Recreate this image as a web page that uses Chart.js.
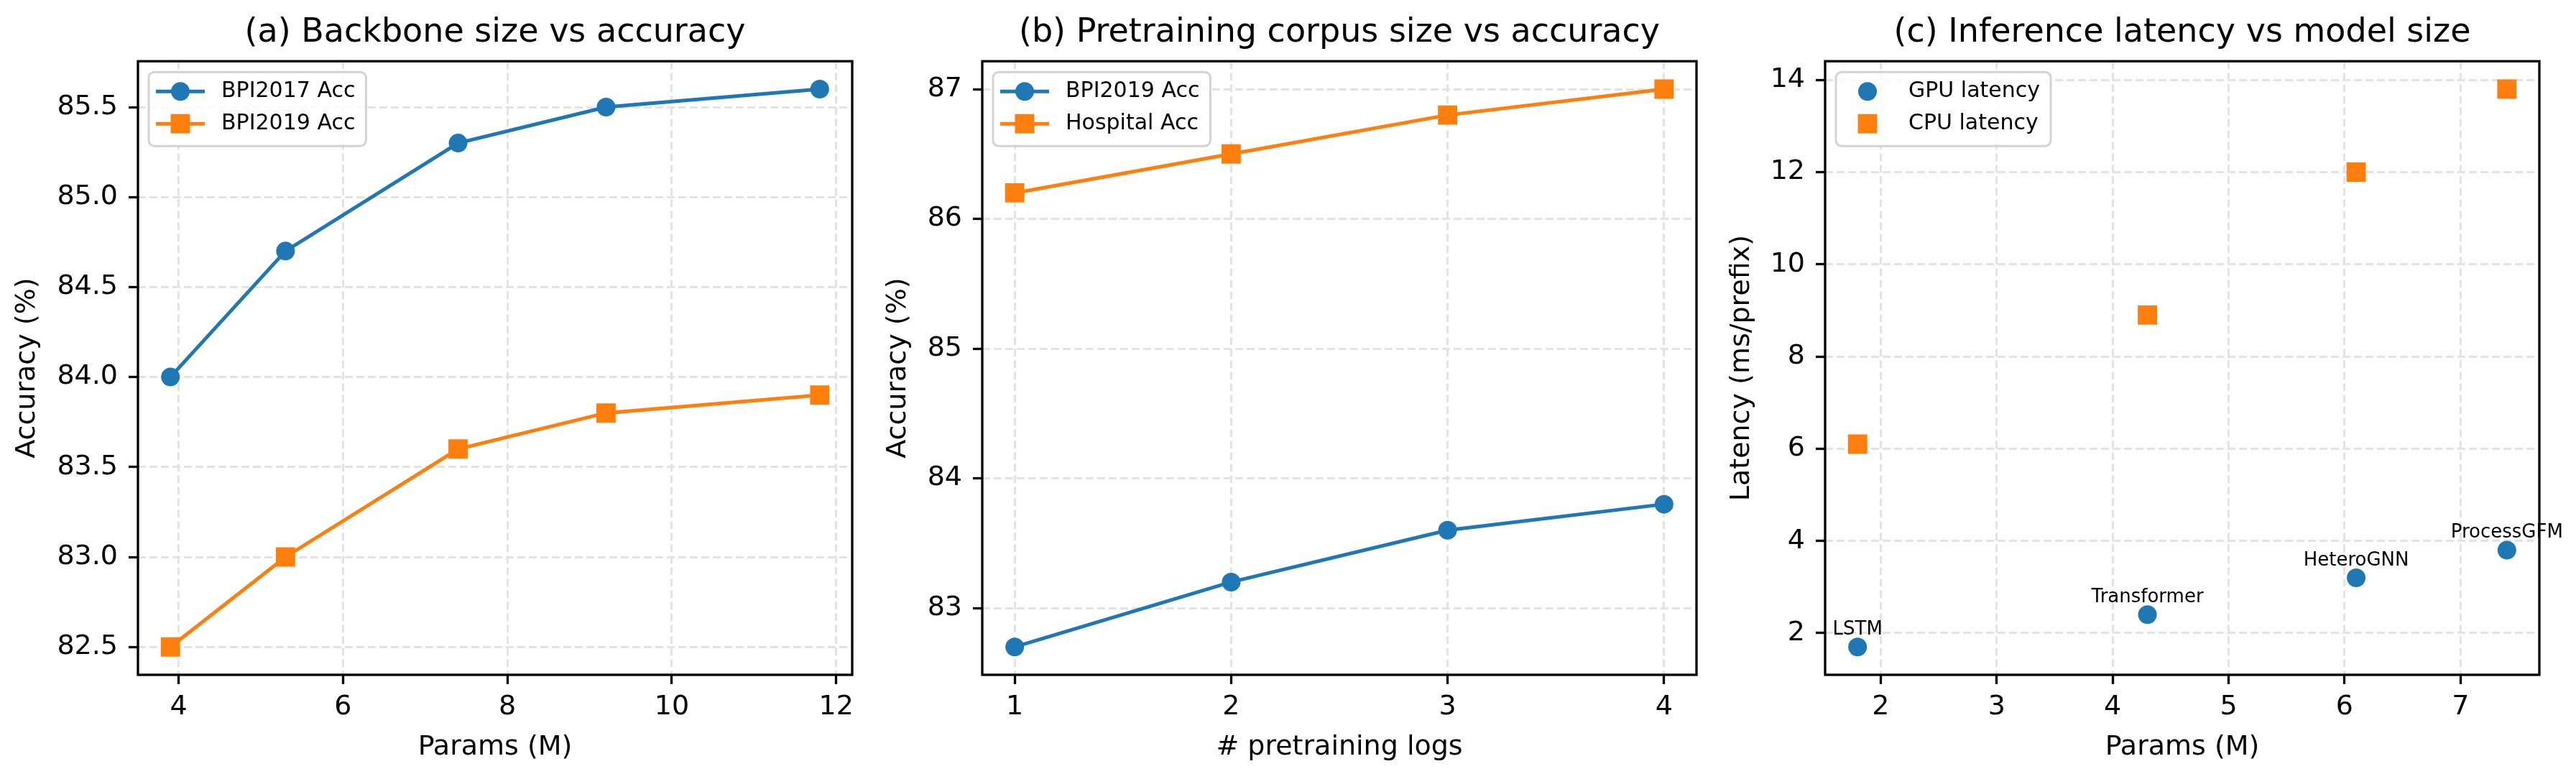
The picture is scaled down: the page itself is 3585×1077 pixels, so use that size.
<!DOCTYPE html>
<html>
<head>
<meta charset="utf-8">
<title>Backbone size, pretraining corpus and latency</title>
<script src="https://cdn.jsdelivr.net/npm/chart.js@4.4.1/dist/chart.umd.min.js"></script>
<style>
  html, body { margin: 0; padding: 0; background: #fff; }
  #wrap { position: relative; width: 3585px; height: 1077px; overflow: hidden; background: #fff; }
  #wrap canvas { position: absolute; top: 0; }
</style>
</head>
<body>
<div id="wrap">
  <canvas id="chartA" width="1260" height="1077" style="left:0px;width:1260px;height:1077px"></canvas>
  <canvas id="chartB" width="1265" height="1077" style="left:1175px;width:1265px;height:1077px"></canvas>
  <canvas id="chartC" width="1237" height="1077" style="left:2348px;width:1237px;height:1077px"></canvas>
</div>
<script>
// (a) backbone size
var backboneParams = [3.9, 5.3, 7.4, 9.2, 11.8];
var bpi2017Acc = [84.0, 84.7, 85.3, 85.5, 85.6];
var bpi2019Acc = [82.5, 83.0, 83.6, 83.8, 83.9];
var backboneXTicks = [4, 6, 8, 10, 12];
var backboneYTicks = [82.5, 83.0, 83.5, 84.0, 84.5, 85.0, 85.5];

// (b) pretraining corpus
var pretrainLogs = [1, 2, 3, 4];
var bpi2019PretrainAcc = [82.7, 83.2, 83.6, 83.8];
var hospitalAcc = [86.2, 86.5, 86.8, 87.0];
var pretrainXTicks = [1, 2, 3, 4];
var pretrainYTicks = [83, 84, 85, 86, 87];

// (c) latency
var modelNames = ['LSTM', 'Transformer', 'HeteroGNN', 'ProcessGFM'];
var modelParams = [1.8, 4.3, 6.1, 7.4];
var gpuLatency = [1.7, 2.4, 3.2, 3.8];
var cpuLatency = [6.1, 8.9, 12.0, 13.8];
var latencyXTicks = [2, 3, 4, 5, 6, 7];
var latencyYTicks = [2, 4, 6, 8, 10, 12, 14];

(function() {
  'use strict';

  var BLUE = '#1f77b4';
  var ORANGE = '#ff7f0e';
  var FONT = '"DejaVu Sans", "Liberation Sans", sans-serif';

  Chart.defaults.font.family = FONT;
  Chart.defaults.color = '#000';

  function points(xs, ys) {
    return xs.map(function(x, i) { return { x: x, y: ys[i] }; });
  }

  // matplotlib style auto margin of 5% on each side
  function padRange(values) {
    var lo = Math.min.apply(null, values);
    var hi = Math.max.apply(null, values);
    var m = (hi - lo) * 0.05;
    return [lo - m, hi + m];
  }

  function lineSet(label, xs, ys, color, style) {
    return {
      label: label,
      data: points(xs, ys),
      showLine: true,
      borderColor: color,
      backgroundColor: color,
      borderWidth: 5,
      tension: 0,
      pointStyle: style,
      pointRadius: style === 'rect' ? 19 : 13,
      pointBorderWidth: 0,
      pointBackgroundColor: color
    };
  }

  function dotSet(label, xs, ys, color, style) {
    var ds = lineSet(label, xs, ys, color, style);
    ds.showLine = false;
    return ds;
  }

  function roundRect(ctx, x, y, w, h, r) {
    ctx.beginPath();
    ctx.moveTo(x + r, y);
    ctx.lineTo(x + w - r, y);
    ctx.arcTo(x + w, y, x + w, y + r, r);
    ctx.lineTo(x + w, y + h - r);
    ctx.arcTo(x + w, y + h, x + w - r, y + h, r);
    ctx.lineTo(x + r, y + h);
    ctx.arcTo(x, y + h, x, y + h - r, r);
    ctx.lineTo(x, y + r);
    ctx.arcTo(x, y, x + r, y, r);
    ctx.closePath();
  }

  function drawMarker(ctx, style, r, x, y, color) {
    ctx.fillStyle = color;
    if (style === 'rect') {
      var s = r * Math.SQRT1_2;
      ctx.fillRect(x - s, y - s, 2 * s, 2 * s);
    } else {
      ctx.beginPath();
      ctx.arc(x, y, r, 0, Math.PI * 2);
      ctx.fill();
    }
  }

  var panelPlugin = {
    id: 'panelExtras',
    afterDatasetsDraw: function(chart) {
      var ctx = chart.ctx;
      var a = chart.chartArea;
      var opts = chart.options.plugins.panelExtras || {};
      ctx.save();
      ctx.strokeStyle = '#000';
      ctx.lineWidth = 3.3;
      ctx.strokeRect(a.left, a.top, a.right - a.left, a.bottom - a.top);
      if (opts.names) {
        var meta = chart.getDatasetMeta(0);
        ctx.font = '26px ' + FONT;
        ctx.fillStyle = '#000';
        ctx.textAlign = 'center';
        ctx.textBaseline = 'alphabetic';
        meta.data.forEach(function(pt, i) {
          ctx.fillText(opts.names[i], pt.x, pt.y - 17);
        });
      }
      ctx.restore();
    },
    afterDraw: function(chart) {
      var ctx = chart.ctx;
      var a = chart.chartArea;
      var opts = chart.options.plugins.panelExtras || {};
      var sets = chart.data.datasets;
      ctx.save();
      ctx.font = '30px ' + FONT;
      var textW = Math.max.apply(null, sets.map(function(ds) { return ctx.measureText(ds.label).width; }));
      var x = a.left + 15;
      var y = a.top + 15;
      var w = 101 + textW + 15;
      var h = 103;
      roundRect(ctx, x, y, w, h, 8);
      ctx.fillStyle = 'rgba(255,255,255,0.8)';
      ctx.fill();
      ctx.strokeStyle = '#d3d3d3';
      ctx.lineWidth = 3;
      ctx.stroke();
      sets.forEach(function(ds, i) {
        var cy = y + 27 + i * 45;
        if (opts.lines) {
          ctx.strokeStyle = ds.borderColor;
          ctx.lineWidth = ds.borderWidth;
          ctx.beginPath();
          ctx.moveTo(x + 10, cy);
          ctx.lineTo(x + 78, cy);
          ctx.stroke();
        }
        drawMarker(ctx, ds.pointStyle, ds.pointRadius, x + 44, cy, ds.pointBackgroundColor);
        ctx.fillStyle = '#000';
        ctx.textAlign = 'left';
        ctx.textBaseline = 'middle';
        ctx.fillText(ds.label, x + 101, cy);
      });
      ctx.restore();
    }
  };

  function makePanel(id, cfg) {
    var xr = padRange(cfg.xValues);
    var yr = padRange(cfg.yValues);
    var gridOpts = {
      color: '#e3e3e3',
      lineWidth: 3,
      tickColor: '#000',
      tickWidth: 3.3,
      tickLength: 13,
      tickBorderDash: []
    };
    return new Chart(document.getElementById(id), {
      type: 'scatter',
      data: { datasets: cfg.datasets },
      options: {
        responsive: false,
        devicePixelRatio: 1,
        animation: false,
        events: [],
        layout: { padding: { left: 0, top: 0, bottom: 0, right: cfg.padRight } },
        plugins: {
          legend: { display: false },
          tooltip: { enabled: false },
          title: {
            display: true,
            text: cfg.title,
            color: '#000',
            fullSize: false,
            font: { size: 46, weight: 'normal' },
            padding: { top: 18, bottom: 12 }
          },
          panelExtras: { lines: cfg.lines, names: cfg.names }
        },
        scales: {
          x: {
            type: 'linear',
            min: xr[0],
            max: xr[1],
            afterBuildTicks: function(axis) {
              axis.ticks = cfg.xTicks.map(function(v) { return { value: v }; });
            },
            afterFit: function(axis) { axis.height = 138; },
            ticks: { color: '#000', font: { size: 38 }, padding: 9, maxRotation: 0, autoSkip: false },
            grid: gridOpts,
            border: { display: false, dash: [11, 5] },
            title: { display: true, text: cfg.xLabel, color: '#000', font: { size: 38 }, padding: { top: 0, bottom: 14 } }
          },
          y: {
            type: 'linear',
            min: yr[0],
            max: yr[1],
            afterBuildTicks: function(axis) {
              axis.ticks = cfg.yTicks.map(function(v) { return { value: v }; });
            },
            afterFit: function(axis) { axis.width = 192; },
            ticks: {
              color: '#000',
              font: { size: 38 },
              padding: 15,
              autoSkip: false,
              callback: function(v) { return cfg.yDecimals ? Number(v).toFixed(cfg.yDecimals) : String(v); }
            },
            grid: gridOpts,
            border: { display: false, dash: [11, 5] },
            title: { display: true, text: cfg.yLabel, color: '#000', font: { size: 38 }, padding: { top: cfg.yTitlePad, bottom: 0 } }
          }
        }
      },
      plugins: [panelPlugin]
    });
  }

  makePanel('chartA', {
    title: '(a) Backbone size vs accuracy',
    xLabel: 'Params (M)',
    yLabel: 'Accuracy (%)',
    yTitlePad: 15,
    padRight: 74,
    yDecimals: 1,
    lines: true,
    xValues: backboneParams,
    yValues: bpi2017Acc.concat(bpi2019Acc),
    xTicks: backboneXTicks,
    yTicks: backboneYTicks,
    datasets: [
      lineSet('BPI2017 Acc', backboneParams, bpi2017Acc, BLUE, 'circle'),
      lineSet('BPI2019 Acc', backboneParams, bpi2019Acc, ORANGE, 'rect')
    ]
  });

  makePanel('chartB', {
    title: '(b) Pretraining corpus size vs accuracy',
    xLabel: '# pretraining logs',
    yLabel: 'Accuracy (%)',
    yTitlePad: 52,
    padRight: 79,
    lines: true,
    xValues: pretrainLogs,
    yValues: bpi2019PretrainAcc.concat(hospitalAcc),
    xTicks: pretrainXTicks,
    yTicks: pretrainYTicks,
    datasets: [
      lineSet('BPI2019 Acc', pretrainLogs, bpi2019PretrainAcc, BLUE, 'circle'),
      lineSet('Hospital Acc', pretrainLogs, hospitalAcc, ORANGE, 'rect')
    ]
  });

  makePanel('chartC', {
    title: '(c) Inference latency vs model size',
    xLabel: 'Params (M)',
    yLabel: 'Latency (ms/prefix)',
    yTitlePad: 53,
    padRight: 51,
    lines: false,
    names: modelNames,
    xValues: modelParams,
    yValues: gpuLatency.concat(cpuLatency),
    xTicks: latencyXTicks,
    yTicks: latencyYTicks,
    datasets: [
      dotSet('GPU latency', modelParams, gpuLatency, BLUE, 'circle'),
      dotSet('CPU latency', modelParams, cpuLatency, ORANGE, 'rect')
    ]
  });
})();
</script>
</body>
</html>
